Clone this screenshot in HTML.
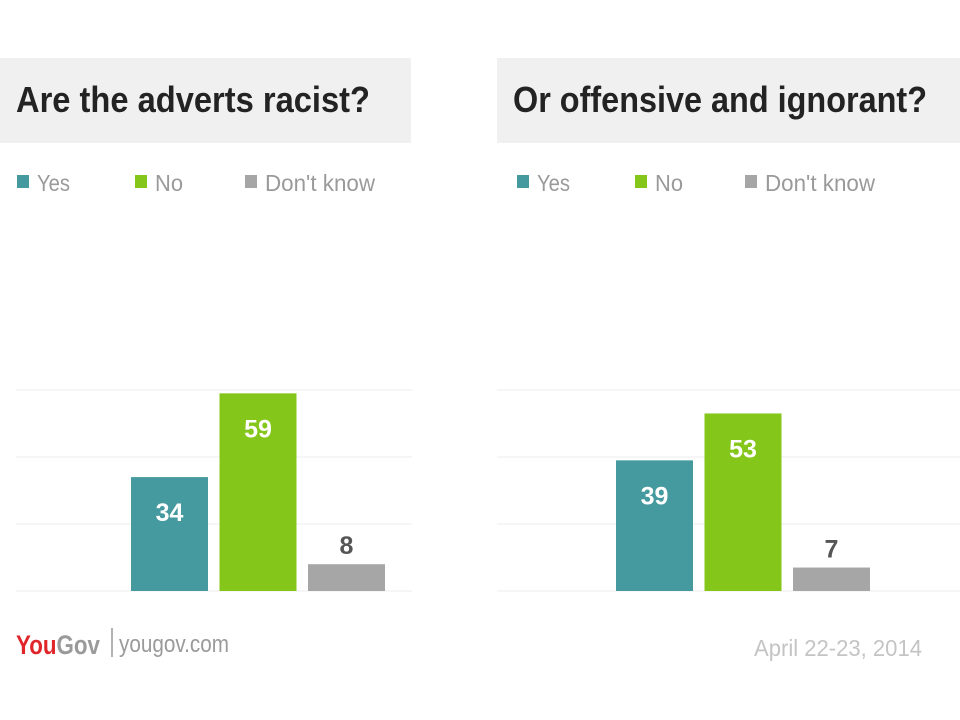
<!DOCTYPE html>
<html><head><meta charset="utf-8"><style>
html,body{margin:0;padding:0;background:#fff;}
svg{display:block;}
</style></head><body>
<svg width="960" height="720" viewBox="0 0 960 720" xmlns="http://www.w3.org/2000/svg">
<rect x="0" y="0" width="960" height="720" fill="#fff"/>
<g id="root"></g>
<g font-family="'Liberation Sans Narrow','Liberation Sans',sans-serif">
  <text x="16" y="654" font-size="27" font-weight="bold" textLength="84" lengthAdjust="spacingAndGlyphs"><tspan fill="#e0262b">You</tspan><tspan fill="#9a9a9a">Gov</tspan></text>
  <line x1="112" y1="628" x2="112" y2="657" stroke="#999" stroke-width="1.5"/>
  <text x="119" y="652" font-size="24" fill="#9a9a9a" textLength="110" lengthAdjust="spacingAndGlyphs" font-family="'Liberation Sans',sans-serif">yougov.com</text>
  <text x="754" y="656" font-size="23" fill="#c4c4c4" textLength="168" lengthAdjust="spacingAndGlyphs">April 22-23, 2014</text>
</g>
</svg>
<script>
const categories = ["Yes", "No", "Don't know"];
const racistValues = [34, 59, 8];
const offensiveValues = [39, 53, 7];
const chartTitles = ["Are the adverts racist?", "Or offensive and ignorant?"];
const gridTicks = [0, 20, 40, 60];
const colors = ["#449a9e", "#84c61a", "#a6a6a6"];
const NS = "http://www.w3.org/2000/svg";
const root = document.getElementById("root");
function mk(tag, attrs, parent){const e=document.createElementNS(NS,tag);for(const k in attrs)e.setAttribute(k,attrs[k]);parent.appendChild(e);return e;}
const baseY = 591, pxPerUnit = 3.35;
function yScale(v){return baseY - v*pxPerUnit;}
const panels = [
  {x0:0, w:411, gx0:16, gx1:412, barX:131, legX:17, titleLen:354, values:racistValues, name:"racist"},
  {x0:497, w:463, gx0:497, gx1:960, barX:616, legX:517, titleLen:414, values:offensiveValues, name:"offensive"}
];
const legOff = [0, 118, 228];
const legLen = [33, 28, 110];
panels.forEach((p, pi) => {
  const g = mk("g", {}, root);
  
  
  const tb = mk("rect", {x:p.x0, y:58, width:p.w, height:85, fill:"#f0f0f0"}, g);
  
  
  const tt = mk("text", {x:p.x0+16, y:112, "font-size":36, "font-weight":"bold", fill:"#232323", "font-family":"'Liberation Sans Narrow','Liberation Sans',sans-serif", textLength:p.titleLen, lengthAdjust:"spacingAndGlyphs"}, g);
  tt.textContent = chartTitles[pi];
  
  
  categories.forEach((c, i) => {
    const lx = p.legX + legOff[i];
    const sq = mk("rect", {x:lx, y:175, width:12, height:13, fill:colors[i]}, g);
    
    
    const lt = mk("text", {x:lx+20, y:191, "font-size":23, fill:"#9a9a9a", "font-family":"'Liberation Sans Narrow','Liberation Sans',sans-serif", textLength:legLen[i], lengthAdjust:"spacingAndGlyphs"}, g);
    lt.textContent = c;
    
    
  });
  gridTicks.forEach(t => {
    const gl = mk("line", {x1:p.gx0, x2:p.gx1, y1:yScale(t), y2:yScale(t), stroke:"#ececec", "stroke-width":1}, g);
    
    
  });
  p.values.forEach((v, i) => {
    const bx = p.barX + i*88.5;
    const top = yScale(v);
    const b = mk("rect", {x:bx, y:top, width:77, height:baseY-top, fill:colors[i]}, g);
    
    
    const inside = (baseY-top) > 60;
    const lab = mk("text", {x:bx+38.5, y: inside ? top+44 : top-10, "text-anchor":"middle", "font-size":25, "font-weight":"bold", fill: inside ? "#fff" : "#555", "font-family":"'Liberation Sans',sans-serif"}, g);
    lab.textContent = v;
    
    
  });
});
</script>
</body></html>
